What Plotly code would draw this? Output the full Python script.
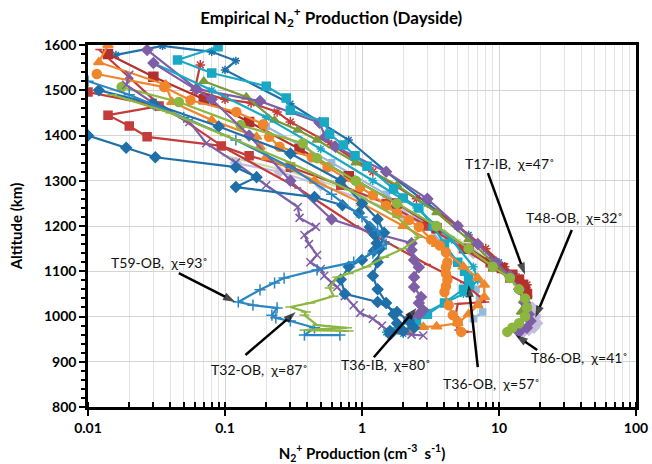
import math
import plotly.graph_objects as go

# ---------------- data ----------------
ltgreen_x = [0.1, 0.3, 1.0, 2.5, 5.0, 8.0, 11.0, 14.0, 16.0, 17.0]
ltgreen_alt = [1355, 1320, 1270, 1225, 1170, 1130, 1095, 1060, 1030, 1010]

ltblue_x = [0.2, 0.6, 1.5, 3.0, 5.0, 6.8, 7.2, 7.6, 6.5]
ltblue_alt = [1420, 1340, 1270, 1200, 1120, 1060, 1040, 1010, 995]

t48_x = [0.12, 0.25, 0.5, 1.0, 2.0, 4.0, 6.5, 9.0, 12.0, 14.0, 16.0, 17.5, 18.5, 19.0, 18.0, 16.5, 15.0]
t48_alt = [1339, 1320, 1290, 1260, 1225, 1180, 1140, 1110, 1090, 1070, 1045, 1020, 1000, 985, 975, 970, 965]

bluex_x = [0.016, 0.035, 0.08, 0.12, 0.1, 0.3, 0.8, 1.5, 3.0, 6.0, 10.0, 13.0, 15.0]
bluex_alt = [1578, 1598, 1585, 1565, 1545, 1470, 1390, 1320, 1250, 1180, 1120, 1090, 1060]

redsq_x = [0.010, 0.033, 0.014, 0.020, 0.027, 0.094, 0.15, 0.3, 0.7, 1.5, 3.0, 5.5, 9.0, 12.0]
redsq_alt = [1496, 1465, 1445, 1421, 1397, 1377, 1355, 1330, 1290, 1250, 1200, 1150, 1110, 1085]

redast_x = [0.066, 0.06, 0.1, 0.155, 0.24, 0.3, 0.6, 1.2, 2.5, 5.0, 8.0, 11.0, 14.0, 16.0]
redast_alt = [1556, 1500, 1480, 1472, 1452, 1430, 1380, 1320, 1260, 1200, 1150, 1110, 1085, 1070]

redln_x = [0.012, 0.03, 0.1, 0.34, 0.9, 1.5, 3.0, 5.5, 8.0, 5.0, 4.8, 5.0, 6.0]
redln_alt = [1590, 1480, 1372, 1284, 1200, 1165, 1115, 1075, 1032, 1028, 1000, 970, 966]

t17_x = [0.014, 0.03, 0.07, 0.15, 0.35, 0.8, 1.8, 3.5, 6.0, 8.7, 10.5, 12.5, 14.0, 15.0, 15.5, 16.0]
t17_alt = [1580, 1530, 1480, 1430, 1370, 1310, 1250, 1195, 1150, 1120, 1107, 1092, 1081, 1070, 1059, 1050]

grntri_x = [0.07, 0.143, 0.23, 0.34, 0.47, 0.9, 1.8, 3.5, 6.0, 9.0, 12.0, 14.0, 15.0, 14.5]
grntri_alt = [1520, 1485, 1434, 1412, 1390, 1340, 1290, 1230, 1170, 1120, 1090, 1060, 1035, 1010]

purdia_x = [0.027, 0.062, 0.18, 0.49, 0.54, 0.64, 1.5, 3.0, 5.0, 7.0, 9.5, 12.0, 14.0, 15.5, 16.5, 17.0, 16.0, 14.0]
purdia_alt = [1589, 1503, 1476, 1428, 1397, 1375, 1320, 1260, 1200, 1160, 1120, 1090, 1060, 1030, 1005, 990, 975, 965]

t36ob_x = [0.089, 0.045, 0.08, 0.2, 0.28, 0.3, 0.53, 0.58, 0.73, 0.89, 1.09, 1.7, 2.0, 2.6, 3.3,
           4.0, 5.0, 5.6, 6.0, 6.1, 5.5, 4.0, 3.0, 2.5, 2.3]
t36ob_alt = [1596, 1567, 1538, 1509, 1483, 1456, 1430, 1403, 1379, 1355, 1332, 1282, 1262, 1240, 1200,
             1160, 1120, 1100, 1085, 1070, 1060, 1030, 1005, 990, 980]

cyanast_x = [0.03, 0.08, 0.2, 0.5, 1.2, 2.5, 4.5, 6.5, 7.0, 5.5, 4.0, 3.0, 2.2, 1.8, 1.5, 2.0]
cyanast_alt = [1560, 1500, 1440, 1370, 1300, 1240, 1170, 1110, 1080, 1050, 1030, 1010, 990, 975, 965, 962]

orcir_x = [0.0116, 0.036, 0.056, 0.121, 0.19, 0.21, 0.25, 0.43, 0.56, 0.97, 1.2, 1.5, 1.8, 2.2, 2.6, 3.2,
           3.7, 4.1, 4.2, 4.1, 4.1, 4.2, 4.1, 4.0, 4.3, 4.6, 5.0, 5.3]
orcir_alt = [1536, 1507, 1478, 1452, 1425, 1397, 1375, 1352, 1330, 1286, 1268, 1245, 1228, 1213, 1198, 1170,
             1157, 1142, 1120, 1109, 1095, 1081, 1067, 1054, 1025, 1003, 988, 966]

ortri_x = [0.014, 0.012, 0.037, 0.041, 0.08, 0.17, 0.18, 0.2, 0.45, 1.0, 2.0, 3.5, 5.5, 7.0, 7.8, 7.8,
           7.0, 6.0, 5.0, 3.5, 2.8, 2.2]
ortri_alt = [1600, 1562, 1512, 1474, 1434, 1397, 1375, 1352, 1300, 1250, 1200, 1160, 1110, 1085, 1070, 1043,
             1025, 1005, 985, 978, 977, 968]

t86_x = [0.0176, 0.046, 0.13, 0.37, 0.47, 0.9, 1.8, 3.5, 6.0, 9.0, 12.0, 14.0, 15.5, 16.0, 15.5, 14.0, 12.5, 11.5]
t86_alt = [1507, 1474, 1423, 1383, 1350, 1300, 1250, 1200, 1150, 1110, 1085, 1060, 1040, 1020, 1000, 985, 975, 966]

t36ib_x = [0.03, 0.08, 0.15, 0.3, 0.6, 1.2, 2.3, 2.3, 2.4, 2.6, 2.4, 2.4, 2.7, 2.6, 2.8, 2.6, 2.2]
t36ib_alt = [1560, 1480, 1400, 1300, 1215, 1185, 1162, 1147, 1125, 1109, 1087, 1065, 1043, 1030, 1014, 1005, 995]

purx_x = [0.02, 0.019, 0.033, 0.055, 0.073, 0.12, 0.2, 0.34, 0.35, 0.46, 0.38, 0.41, 0.47, 0.42, 0.5,
          0.53, 0.6, 0.66, 0.75, 0.87, 0.97, 1.2, 1.4, 1.6, 2.3, 2.8]
purx_alt = [1534, 1512, 1463, 1430, 1383, 1340, 1290, 1242, 1218, 1198, 1180, 1160, 1136, 1120, 1105,
            1090, 1075, 1065, 1045, 1025, 1008, 995, 980, 965, 960, 958]

bluedia1_x = [0.010, 0.019, 0.031, 0.12, 0.17, 0.12, 0.45, 0.72, 0.95, 1.14, 1.24, 1.28, 1.22, 1.0, 0.8,
              0.7, 0.75, 1.3, 1.8, 2.2, 2.4, 1.6]
bluedia1_alt = [1400, 1373, 1352, 1330, 1308, 1286, 1264, 1246, 1229, 1198, 1180, 1162, 1145, 1125, 1110,
                1082, 1050, 1032, 1010, 990, 975, 968]

bluedia2_x = [0.012, 0.03, 0.09, 0.3, 0.7, 1.0, 1.3, 1.45, 1.35, 1.3, 1.2, 1.3, 1.5, 1.7, 1.8, 2.0, 1.6]
bluedia2_alt = [1500, 1470, 1420, 1360, 1300, 1250, 1215, 1185, 1150, 1120, 1090, 1060, 1030, 1005, 985, 968, 960]

t59_x = [0.01, 0.02, 0.05, 0.12, 0.3, 0.6, 1.0, 1.3, 1.5, 1.2, 0.87, 0.47, 0.27, 0.23, 0.18, 0.125,
         0.16, 0.24, 0.22, 0.235, 0.3, 0.45, 0.38, 0.69]
t59_alt = [1520, 1490, 1440, 1390, 1330, 1270, 1220, 1190, 1160, 1140, 1120, 1103, 1085, 1074, 1059, 1032,
           1025, 1019, 1003, 997, 990, 975, 959, 959]

t32_x = [0.015, 0.04, 0.1, 0.3, 0.8, 1.8, 2.6, 2.0, 1.45, 1.08, 0.8, 0.66, 0.58, 0.62, 0.42, 0.3,
         0.39, 0.38, 0.47, 0.78, 0.5, 0.38, 0.8]
t32_alt = [1490, 1450, 1400, 1340, 1280, 1220, 1175, 1150, 1131, 1110, 1095, 1087, 1063, 1045, 1030, 1021,
           1010, 1003, 981, 975, 972, 970, 968]

# tick labels
x_tick_vals = [0.01, 0.1, 1, 10, 100]
x_tick_text = ["0.01", "0.1", "1", "10", "100"]
y_tick_vals = [800, 900, 1000, 1100, 1200, 1300, 1400, 1500, 1600]

# annotation labels and their arrows (label centre, arrow tail, arrow tip) in data units
lab_text = ["T17-IB,  χ=47˚", "T48-OB,  χ=32˚", "T59-OB,  χ=93˚", "T32-OB,  χ=87˚",
            "T36-IB,  χ=80˚", "T36-OB,  χ=57˚", "T86-OB,  χ=41˚"]
lab_x = [12.1, 35.6, 0.033, 0.18, 1.49, 8.8, 38.7]
lab_alt = [1339, 1218, 1120, 882, 893, 853, 910]
tail_x = [8.3, 34.0, 0.046, 0.141, 1.22, 7.0, 19.0]
tail_alt = [1317, 1191, 1096, 915, 910, 888, 926]
tip_x = [15.5, 18.4, 0.119, 0.328, 2.5, 6.0, 13.2]
tip_alt = [1092, 997, 1032, 1010, 1019, 1070, 959]

# ---------------- styles ----------------
BLUE = "#1F6FA8"
RED = "#C43C39"
DKRED = "#B3302D"
GREEN = "#8CB640"
PURPLE = "#7E5EA6"
CYAN = "#19A9C4"
ORANGE = "#F0862B"
LAV = "#C5BEDC"
LTGREEN = "#C9E0AE"
LTBLUE = "#93B9DD"

series = [
    (ltgreen_x, ltgreen_alt, LTGREEN, "line-ew-open", 5),
    (ltblue_x, ltblue_alt, LTBLUE, "square", 6),
    (t48_x, t48_alt, LAV, "diamond", 8),
    (bluex_x, bluex_alt, BLUE, "asterisk-open", 7),
    (redsq_x, redsq_alt, RED, "square", 8),
    (redast_x, redast_alt, RED, "asterisk-open", 8),
    (redln_x, redln_alt, RED, "line-ew-open", 5),
    (t17_x, t17_alt, DKRED, "square", 9),
    (grntri_x, grntri_alt, "#7A9A3A", "triangle-up", 8),
    (purdia_x, purdia_alt, PURPLE, "diamond", 8),
    (t36ob_x, t36ob_alt, CYAN, "square", 8),
    (cyanast_x, cyanast_alt, CYAN, "asterisk-open", 7),
    (orcir_x, orcir_alt, ORANGE, "circle", 9),
    (ortri_x, ortri_alt, ORANGE, "triangle-up", 9),
    (t86_x, t86_alt, GREEN, "circle", 9),
    (t36ib_x, t36ib_alt, PURPLE, "diamond", 8),
    (purx_x, purx_alt, PURPLE, "x-thin-open", 8),
    (bluedia1_x, bluedia1_alt, BLUE, "diamond", 8),
    (bluedia2_x, bluedia2_alt, BLUE, "diamond", 8),
    (t59_x, t59_alt, "#2A86C2", "cross-thin-open", 8),
    (t32_x, t32_alt, GREEN, "line-ew-open", 7),
]

fig = go.Figure()
for xs, ys, col, sym, sz in series:
    fig.add_trace(go.Scatter(
        x=xs, y=ys, mode="lines+markers",
        line=dict(color=col, width=2.2),
        marker=dict(symbol=sym, size=sz, color=col, line=dict(color=col, width=1.5)),
        showlegend=False, hoverinfo="skip",
    ))

# arrows drawn as line segments with an arrow-head marker at the tip
for ax_, ay_, px, py in zip(tail_x, tail_alt, tip_x, tip_alt):
    fig.add_trace(go.Scatter(
        x=[ax_, px], y=[ay_, py], mode="lines+markers",
        line=dict(color="black", width=2.5),
        marker=dict(symbol=["circle", "arrow"], size=[0, 13], color="black",
                    angleref="previous", line=dict(width=0)),
        showlegend=False, hoverinfo="skip",
    ))

FONT = "Lato, 'Open Sans', sans-serif"

annotations = []
for t, lx, la in zip(lab_text, lab_x, lab_alt):
    annotations.append(dict(
        x=math.log10(lx), y=la, xref="x", yref="y", text=t, showarrow=False,
        font=dict(family=FONT, size=14, color="#111111"),
    ))

fig.update_layout(
    width=652, height=464,
    margin=dict(l=88, r=16, t=45, b=57, autoexpand=False),
    paper_bgcolor="white", plot_bgcolor="white",
    title=dict(text="<b>Empirical N<sub>2</sub><sup>+</sup> Production (Dayside)</b>",
               x=0.508, xanchor="center", y=0.975, yanchor="top",
               font=dict(family=FONT, size=17, color="black")),
    annotations=annotations,
    font=dict(family=FONT, color="black"),
)

fig.update_xaxes(
    type="log", range=[-2, 2], automargin=False, ticklabeloverflow="allow",
    tickvals=x_tick_vals, ticktext=x_tick_text,
    tickfont=dict(family=FONT, size=14, color="black", weight="bold"),
    showgrid=True, gridcolor="#D4D4D4", gridwidth=1,
    showline=True, linecolor="black", linewidth=2.5, mirror=True,
    ticks="outside", ticklen=6, tickwidth=2, tickcolor="black",
    minor=dict(dtick="D1", showgrid=True, gridcolor="#E3E3E3", gridwidth=1,
               ticks="inside", ticklen=5, tickwidth=1.5, tickcolor="black"),
    title=dict(text="<b>N<sub>2</sub><sup>+</sup> Production (cm<sup>-3</sup>  s<sup>-1</sup>)</b>",
               font=dict(family=FONT, size=15, color="black"), standoff=14),
    zeroline=False,
)
fig.update_yaxes(
    range=[800, 1600], automargin=False, ticklabeloverflow="allow",
    tickvals=y_tick_vals,
    tickfont=dict(family=FONT, size=14, color="black", weight="bold"),
    showgrid=True, gridcolor="#D4D4D4", gridwidth=1,
    showline=True, linecolor="black", linewidth=2.5, mirror=True,
    ticks="outside", ticklen=6, tickwidth=2, tickcolor="black",
    minor=dict(dtick=20, showgrid=False, ticks="outside", ticklen=4, tickwidth=1.5, tickcolor="black"),
    title=dict(text="<b>Altitude (km)</b>", font=dict(family=FONT, size=15, color="black"), standoff=18),
    zeroline=False,
)

fig.write_html("out.html")
